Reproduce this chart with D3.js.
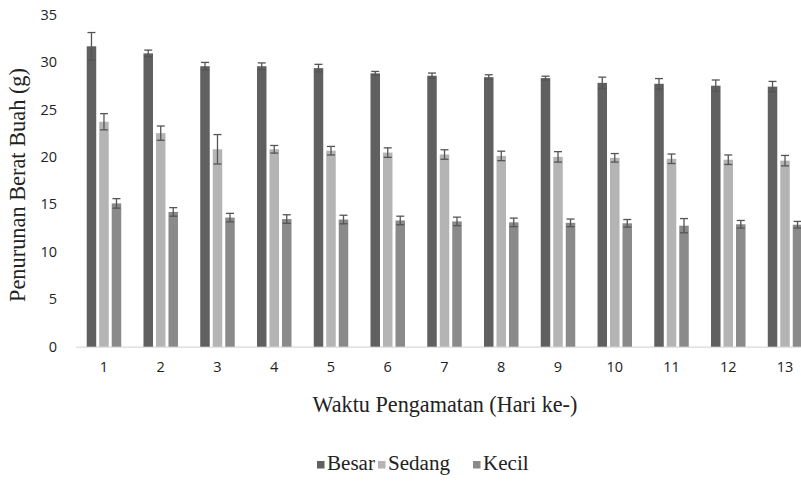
<!DOCTYPE html>
<html><head><meta charset="utf-8">
<script src="https://cdn.jsdelivr.net/npm/d3@7"></script>
<style>body{margin:0;background:#fff}svg{display:block}</style>
</head><body>
<svg id="c" width="801" height="487"></svg>
<script>
const days = ["1","2","3","4","5","6","7","8","9","10","11","12","13"];
const seriesNames = ["Besar","Sedang","Kecil"];
const besar = [31.65,30.9,29.55,29.55,29.35,28.8,28.55,28.4,28.3,27.8,27.7,27.5,27.4];
const besarErr = [1.45,0.35,0.4,0.35,0.4,0.2,0.28,0.25,0.2,0.6,0.55,0.6,0.55];
const sedang = [23.7,22.5,20.8,20.8,20.65,20.45,20.25,20.1,20.0,19.9,19.8,19.7,19.6];
const sedangErr = [0.85,0.75,1.55,0.4,0.45,0.5,0.5,0.5,0.55,0.45,0.5,0.5,0.55];
const kecil = [15.1,14.2,13.6,13.45,13.4,13.3,13.2,13.1,13.05,13.0,12.75,12.9,12.85];
const kecilErr = [0.5,0.45,0.45,0.45,0.45,0.45,0.45,0.45,0.4,0.4,0.75,0.4,0.35];
const yTicks = [0,5,10,15,20,25,30,35];
const colors = ["#606060","#b4b4b4","#8a8a8a"];

const vals = [besar, sedang, kecil];
const errs = [besarErr, sedangErr, kecilErr];
const SERIF = "'Liberation Serif', 'Times New Roman', serif";
const SANS = "'Open Sans', 'Liberation Sans', sans-serif";

const svg = d3.select("#c");
const x0 = d3.scaleBand().domain(days).range([75.6, 813.4]);
const x1 = d3.scaleBand().domain(seriesNames).range([-17.25, 17.25]).paddingInner(0.24);
const y = d3.scaleLinear().domain([0,35]).range([346.7, 14.5]);

// y tick labels
const yAxis = d3.axisLeft(y).tickValues(yTicks).tickSize(0).tickPadding(0);
const gy = svg.append("g").attr("transform","translate(57,0)").call(yAxis);
gy.select(".domain").remove();
gy.selectAll("text").style("font-family", SANS).attr("font-size",14.5).attr("fill","#222");

// x axis
const xAxis = d3.axisBottom(x0).tickSize(0).tickPadding(15);
const gx = svg.append("g").attr("transform","translate(0,346.7)").call(xAxis);
gx.select(".domain").attr("stroke","#d9d9d9").attr("stroke-width",1.2);
gx.selectAll("text").style("font-family", SANS).attr("font-size",14.5).attr("fill","#222");

// bars
const groups = svg.append("g");
seriesNames.forEach((s, si) => {
  const data = days.map((d, i) => ({d, v: vals[si][i], e: errs[si][i]}));
  const cx = d => x0(d.d) + x0.bandwidth()/2 + x1(s);
  groups.selectAll(".bar-"+s).data(data).join("rect")
    .attr("x", cx).attr("y", d => y(d.v))
    .attr("width", x1.bandwidth()).attr("height", d => y(0) - y(d.v))
    .attr("fill", colors[si]);
  const eb = groups.append("g").attr("stroke","#555").attr("stroke-width",1.3);
  data.forEach(d => {
    const mx = cx(d) + x1.bandwidth()/2;
    eb.append("line").attr("x1",mx).attr("x2",mx).attr("y1",y(d.v+d.e)).attr("y2",y(d.v-d.e));
    eb.append("line").attr("x1",mx-4).attr("x2",mx+4).attr("y1",y(d.v+d.e)).attr("y2",y(d.v+d.e));
    eb.append("line").attr("x1",mx-4).attr("x2",mx+4).attr("y1",y(d.v-d.e)).attr("y2",y(d.v-d.e));
  });
});

function fit(sel, target) {
  const fs = 18;
  sel.attr("font-size", fs);
  const len = sel.node().getComputedTextLength();
  if (len > 0) sel.attr("font-size", fs * target / len);
}

// axis titles
const xt = svg.append("text").style("font-family", SERIF).attr("x",445).attr("y",412).attr("text-anchor","middle")
  .attr("fill","#222").text("Waktu Pengamatan (Hari ke-)");
fit(xt, 265);
const yt = svg.append("text").style("font-family", SERIF).attr("transform","translate(25,185) rotate(-90)").attr("text-anchor","middle")
  .attr("fill","#222").text("Penurunan Berat Buah (g)");
fit(yt, 234);

// legend
const legX = [317, 378, 473];
const leg = svg.append("g");
seriesNames.forEach((s, i) => {
  leg.append("rect").attr("x", legX[i]).attr("y", 461).attr("width",7.5).attr("height",7.5).attr("fill", colors[i]);
  leg.append("text").style("font-family", SERIF).attr("x", legX[i]+10).attr("y", 470)
    .attr("font-size",xt.attr("font-size")*0.95).attr("fill","#222")
    .text(s);
});
</script>
</body></html>
